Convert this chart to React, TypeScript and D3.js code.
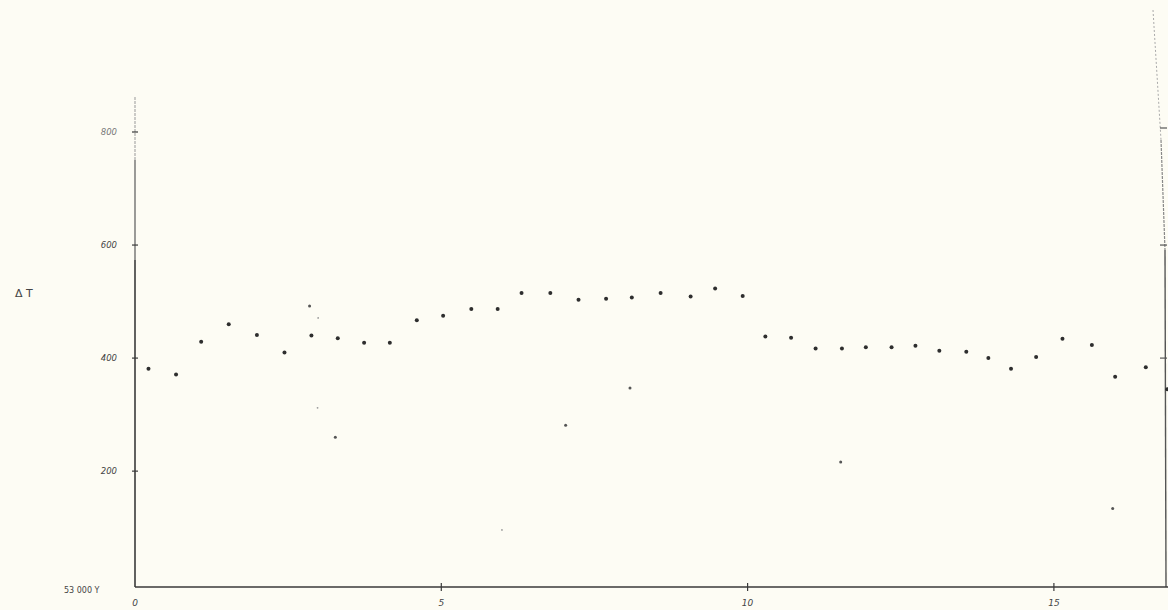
import React from "react";
import * as d3 from "d3";

// Main series (x in thousand years, ΔT)
const seriesX = [0.22, 0.67, 1.08, 1.53, 1.99, 2.44, 2.88, 3.31, 3.74, 4.16, 4.6, 5.03, 5.49, 5.92, 6.31, 6.78, 7.24, 7.69, 8.11, 8.58, 9.07, 9.47, 9.92, 10.29, 10.71, 11.11, 11.54, 11.93, 12.35, 12.74, 13.13, 13.57, 13.93, 14.3, 14.71, 15.14, 15.62, 16.0, 16.5, 16.85];
const seriesY = [381, 371, 429, 460, 441, 410, 440, 435, 427, 427, 467, 475, 487, 487, 515, 515, 503, 505, 507, 515, 509, 523, 510, 438, 436, 417, 417, 419, 419, 422, 413, 411, 400, 381, 402, 434, 423, 367, 384, 345];

// Scattered secondary points
const extraX = [2.85, 3.27, 7.03, 8.08, 11.52, 15.96];
const extraY = [492, 260, 281, 347, 216, 134];
// Very faint specks
const faintX = [2.99, 2.98, 5.99];
const faintY = [471, 312, 96];

const yTicks = [200, 400, 600, 800];
const yTickLabels = ["200", "400", "600", "800"];
const rightTicks = [400, 600, 800];
const xTicks = [0, 5, 10, 15];
const xTickLabels = ["0", "5", "10", "15"];

export default function App() {
  const W = 1168, H = 610;
  const x = d3.scaleLinear().domain([0, 16.83]).range([135, 1166]);
  const y = d3.scaleLinear().domain([-5, 800]).range([587, 132]);
  const ink = "#3a3a3a";
  return (
    <svg width={W} height={H} style={{ position: "absolute", left: 0, top: 0, background: "#fdfcf4" }}>
      <rect x={0} y={0} width={W} height={H} fill="#fdfcf4" />
      {/* left axis */}
      <line x1={x(0)} x2={x(0)} y1={97} y2={160} stroke="#999" strokeWidth={1} strokeDasharray="3 1" />
      <line x1={x(0)} x2={x(0)} y1={160} y2={260} stroke="#666" strokeWidth={1.3} />
      <line x1={x(0)} x2={x(0)} y1={260} y2={587} stroke={ink} strokeWidth={1.6} />
      {/* right axis */}
      <line x1={1153} x2={1161} y1={10} y2={140} stroke="#aaa" strokeWidth={1} strokeDasharray="2 2" />
      <line x1={1161} x2={1165} y1={140} y2={250} stroke="#888" strokeWidth={1.2} strokeDasharray="3 1" />
      <line x1={1165} x2={1166} y1={250} y2={587} stroke="#555" strokeWidth={1.4} />
      {/* bottom axis */}
      <line x1={x(0)} x2={W} y1={587} y2={587} stroke={ink} strokeWidth={1.6} />
      {yTicks.map((t, i) => (
        <g key={"yt" + i}>
          <line x1={x(0) - 3} x2={x(0) + 3} y1={y(t)} y2={y(t)} stroke={ink} strokeWidth={1.2} />
          <text x={x(0) - 18} y={y(t) + 3} fontSize={8.5} fontStyle="italic" fontFamily="DejaVu Sans" fill={t === 800 ? "#777" : "#444"} textAnchor="end">
            {yTickLabels[i]}
          </text>
        </g>
      ))}
      {rightTicks.map((t, i) => (
        <line key={"rt" + i} x1={1160} x2={1167} y1={y(t) - (t === 800 ? 4 : 0)} y2={y(t) - (t === 800 ? 4 : 0)} stroke="#555" strokeWidth={1.2} />
      ))}
      {xTicks.map((t, i) => (
        <g key={"xt" + i}>
          {t > 0 && <line x1={x(t)} x2={x(t)} y1={583} y2={591} stroke={ink} strokeWidth={1.2} />}
          <text x={x(t)} y={606} fontSize={9} fontStyle="italic" fontFamily="DejaVu Sans" fill="#444" textAnchor="middle">
            {xTickLabels[i]}
          </text>
        </g>
      ))}
      <text x={15} y={297} fontSize={11} fontFamily="DejaVu Sans" fill="#444">Δ T</text>
      <text x={64} y={593} fontSize={8} fontFamily="DejaVu Sans" fill="#444">53 000  Y</text>
      {seriesX.map((v, i) => (
        <circle key={"s" + i} cx={x(v)} cy={y(seriesY[i])} r={2} fill="#2e2e2e" />
      ))}
      {extraX.map((v, i) => (
        <circle key={"e" + i} cx={x(v)} cy={y(extraY[i])} r={1.5} fill="#555" />
      ))}
      {faintX.map((v, i) => (
        <circle key={"f" + i} cx={x(v)} cy={y(faintY[i])} r={0.9} fill="#999" />
      ))}
    </svg>
  );
}
